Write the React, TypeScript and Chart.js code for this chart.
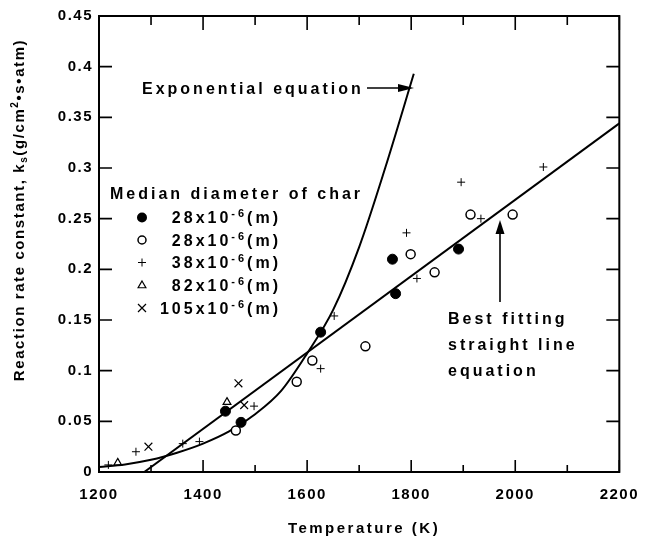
import React, { useEffect, useRef } from 'react';
import { Chart, registerables } from 'chart.js';

Chart.register(...registerables);

// ---------------- data ----------------
const xTickValues = [1200, 1300, 1400, 1500, 1600, 1700, 1800, 1900, 2000, 2100, 2200];
const xTickLabels = ['1200', '', '1400', '', '1600', '', '1800', '', '2000', '', '2200'];
const yTickValues = [0, 0.05, 0.1, 0.15, 0.2, 0.25, 0.3, 0.35, 0.4, 0.45];
const yTickLabels = ['0', '0.05', '0.1', '0.15', '0.2', '0.25', '0.3', '0.35', '0.4', '0.45'];

const filled28T = [1443, 1473, 1626, 1764, 1770, 1891];
const filled28K = [0.06, 0.049, 0.138, 0.21, 0.176, 0.22];

const open28T = [1463, 1580, 1610, 1712, 1799, 1845, 1914, 1995];
const open28K = [0.041, 0.089, 0.11, 0.124, 0.215, 0.197, 0.254, 0.254];

const plus38T = [1218, 1271, 1361, 1393, 1498, 1626, 1652, 1791, 1811, 1896, 1934, 2054];
const plus38K = [0.007, 0.02, 0.028, 0.03, 0.065, 0.102, 0.154, 0.236, 0.191, 0.286, 0.25, 0.301];

const tri82T = [1236, 1446];
const tri82K = [0.009, 0.069];

const x105T = [1295, 1468, 1479];
const x105K = [0.025, 0.0875, 0.066];

const lineT = [1287, 2200];
const lineK = [0, 0.344];

const expT = [1200, 1250, 1300, 1350, 1400, 1450, 1500, 1550, 1600, 1650, 1700, 1750, 1805];
const expK = [0.005, 0.0075, 0.012, 0.019, 0.028, 0.04, 0.057, 0.08, 0.117, 0.16, 0.222, 0.3, 0.393];

const legendTitle = 'Median diameter of char';
const legendSizes = ['28', '28', '38', '82', '105'];
const legendStyles = ['filled', 'open', 'plus', 'tri', 'x'];

// ---------------- helpers ----------------
const FONT = '"Liberation Sans", Arial, Helvetica, sans-serif';
const pts = (xs: number[], ys: number[]) => xs.map((x, i) => ({ x, y: ys[i] }));

type Seg = { t: string; size: number; dy?: number };

function setFont(ctx: any, size: number, ls: number) {
  ctx.font = `bold ${size}px ${FONT}`;
  ctx.letterSpacing = `${ls}px`;
}
function segsWidth(ctx: any, segs: Seg[], ls: number) {
  let w = 0;
  for (const s of segs) {
    setFont(ctx, s.size, ls);
    w += ctx.measureText(s.t).width;
  }
  return w;
}
function drawSegs(ctx: any, segs: Seg[], x: number, baseline: number, ls: number) {
  let cx = x;
  ctx.textAlign = 'left';
  ctx.textBaseline = 'alphabetic';
  for (const s of segs) {
    setFont(ctx, s.size, ls);
    ctx.fillText(s.t, cx, baseline + (s.dy || 0));
    cx += ctx.measureText(s.t).width;
  }
}

function drawMarker(ctx: any, style: string, x: number, y: number) {
  ctx.save();
  ctx.strokeStyle = '#000';
  ctx.fillStyle = '#000';
  ctx.beginPath();
  if (style === 'filled') {
    ctx.arc(x, y, 5, 0, Math.PI * 2);
    ctx.fill();
  } else if (style === 'open') {
    ctx.lineWidth = 1.5;
    ctx.arc(x, y, 4, 0, Math.PI * 2);
    ctx.fillStyle = '#fff';
    ctx.fill();
    ctx.stroke();
  } else if (style === 'plus') {
    ctx.lineWidth = 1;
    ctx.moveTo(x - 4, y);
    ctx.lineTo(x + 4, y);
    ctx.moveTo(x, y - 4);
    ctx.lineTo(x, y + 4);
    ctx.stroke();
  } else if (style === 'tri') {
    ctx.lineWidth = 1.2;
    const r = 4.5;
    ctx.moveTo(x, y - r);
    ctx.lineTo(x + r * 0.866, y + r / 2);
    ctx.lineTo(x - r * 0.866, y + r / 2);
    ctx.closePath();
    ctx.stroke();
  } else if (style === 'x') {
    ctx.lineWidth = 1.2;
    const d = 4;
    ctx.moveTo(x - d, y - d);
    ctx.lineTo(x + d, y + d);
    ctx.moveTo(x + d, y - d);
    ctx.lineTo(x - d, y + d);
    ctx.stroke();
  }
  ctx.restore();
}

function arrowHead(ctx: any, tipX: number, tipY: number, dirX: number, dirY: number, len: number, half: number) {
  const bx = tipX - dirX * len;
  const by = tipY - dirY * len;
  const px = -dirY;
  const py = dirX;
  ctx.beginPath();
  ctx.moveTo(tipX, tipY);
  ctx.lineTo(bx + px * half, by + py * half);
  ctx.lineTo(bx - px * half, by - py * half);
  ctx.closePath();
  ctx.fill();
}

const decorPlugin = {
  id: 'decor',
  beforeDraw(chart: any) {
    chart.ctx.letterSpacing = '1.5px';
  },
  afterDraw(chart: any) {
    const ctx = chart.ctx;
    const { left, right, top, bottom } = chart.chartArea;
    const xs = chart.scales.x;
    const ys = chart.scales.y;
    ctx.save();
    ctx.strokeStyle = '#000';
    ctx.fillStyle = '#000';

    // frame
    ctx.lineWidth = 2;
    ctx.strokeRect(left, top, right - left, bottom - top);

    // inward ticks
    ctx.lineWidth = 1.6;
    ctx.beginPath();
    xTickValues.forEach((v, i) => {
      const px = xs.getPixelForValue(v);
      const major = xTickLabels[i] !== '';
      const lb = major ? 12 : 7;
      const lt = major ? 14 : 9;
      ctx.moveTo(px, bottom);
      ctx.lineTo(px, bottom - lb);
      ctx.moveTo(px, top);
      ctx.lineTo(px, top + lt);
    });
    yTickValues.forEach((v) => {
      const py = ys.getPixelForValue(v);
      ctx.moveTo(left, py);
      ctx.lineTo(left + 13, py);
      ctx.moveTo(right, py);
      ctx.lineTo(right - 13, py);
    });
    ctx.stroke();

    const LS = 3;
    // "Exponential equation" with arrow
    drawSegs(ctx, [{ t: 'Exponential equation', size: 16 }], 142, 88 + 5.7, LS);
    ctx.lineWidth = 1.6;
    ctx.beginPath();
    ctx.moveTo(367, 88);
    ctx.lineTo(400, 88);
    ctx.stroke();
    arrowHead(ctx, 414, 88, 1, 0, 16, 4);

    // Best fitting straight line equation with arrow
    drawSegs(ctx, [{ t: 'Best fitting', size: 16 }], 448, 318.5 + 5.7, LS);
    drawSegs(ctx, [{ t: 'straight line', size: 16 }], 448, 344 + 5.7, LS);
    drawSegs(ctx, [{ t: 'equation', size: 16 }], 448, 370 + 5.7, LS);
    ctx.lineWidth = 1.6;
    ctx.beginPath();
    ctx.moveTo(500, 302);
    ctx.lineTo(500, 230);
    ctx.stroke();
    arrowHead(ctx, 500, 220, 0, -1, 14, 4.5);

    // legend
    drawSegs(ctx, [{ t: legendTitle, size: 16 }], 110, 193 + 5.7, LS);
    const rowY = [217.5, 240, 262.5, 285.5, 308];
    legendSizes.forEach((sz, i) => {
      const y = rowY[i];
      drawMarker(ctx, legendStyles[i], 142, y);
      const segs: Seg[] = [
        { t: `${sz}x10`, size: 16 },
        { t: '-6', size: 11, dy: -6 },
        { t: '(m)', size: 16 },
      ];
      const w = segsWidth(ctx, segs, LS);
      drawSegs(ctx, segs, 281 - w, y + 5.7, LS);
    });

    // x axis title
    const xt: Seg[] = [{ t: 'Temperature (K)', size: 15 }];
    const xw = segsWidth(ctx, xt, 2.5);
    drawSegs(ctx, xt, 364 - xw / 2, 528 + 5.4, 2.5);

    // y axis title (rotated)
    const yt: Seg[] = [
      { t: 'Reaction rate constant, k', size: 15 },
      { t: 's', size: 10, dy: 3 },
      { t: '(g/cm', size: 15 },
      { t: '2', size: 10, dy: -6 },
      { t: '\u2022s\u2022atm)', size: 15 },
    ];
    const yw = segsWidth(ctx, yt, 1.6);
    ctx.save();
    ctx.translate(19, 210);
    ctx.rotate(-Math.PI / 2);
    drawSegs(ctx, yt, -yw / 2, 5.4, 1.6);
    ctx.restore();

    ctx.restore();
    ctx.letterSpacing = '0px';
  },
};

export default function App() {
  const ref = useRef<HTMLCanvasElement | null>(null);
  useEffect(() => {
    if (!ref.current) return;
    const black = '#000';
    const chart = new Chart(ref.current, {
      type: 'scatter',
      data: {
        datasets: [
          {
            label: 'Exponential equation',
            data: pts(expT, expK),
            showLine: true,
            borderColor: black,
            borderWidth: 2,
            pointRadius: 0,
            cubicInterpolationMode: 'monotone',
            fill: false,
            order: 3,
          } as any,
          {
            label: 'Best fitting straight line',
            data: pts(lineT, lineK),
            showLine: true,
            borderColor: black,
            borderWidth: 2,
            pointRadius: 0,
            fill: false,
            order: 3,
          },
          {
            label: '28x10-6(m) filled',
            data: pts(filled28T, filled28K),
            pointStyle: 'circle',
            pointRadius: 5,
            pointBackgroundColor: black,
            pointBorderColor: black,
            pointBorderWidth: 1,
            order: 1,
          },
          {
            label: '28x10-6(m) open',
            data: pts(open28T, open28K),
            pointStyle: 'circle',
            pointRadius: 4.5,
            pointBackgroundColor: '#fff',
            pointBorderColor: black,
            pointBorderWidth: 1.5,
            order: 1,
          },
          {
            label: '38x10-6(m)',
            data: pts(plus38T, plus38K),
            pointStyle: 'cross',
            pointRadius: 4,
            pointBorderColor: black,
            pointBorderWidth: 1,
            order: 1,
          },
          {
            label: '82x10-6(m)',
            data: pts(tri82T, tri82K),
            pointStyle: 'triangle',
            pointRadius: 4.5,
            pointBackgroundColor: 'rgba(255,255,255,0)',
            pointBorderColor: black,
            pointBorderWidth: 1.2,
            order: 1,
          },
          {
            label: '105x10-6(m)',
            data: pts(x105T, x105K),
            pointStyle: 'crossRot',
            pointRadius: 5.5,
            pointBorderColor: black,
            pointBorderWidth: 1.2,
            order: 1,
          },
        ],
      },
      options: {
        responsive: false,
        animation: false,
        devicePixelRatio: 1,
        events: [],
        layout: { padding: { top: 16, right: 22, left: 0, bottom: 0 } },
        plugins: { legend: { display: false }, tooltip: { enabled: false } },
        scales: {
          x: {
            type: 'linear',
            min: 1200,
            max: 2200,
            grid: { display: false, drawTicks: false },
            border: { display: false },
            ticks: {
              stepSize: 100,
              autoSkip: false,
              maxRotation: 0,
              padding: 14,
              color: black,
              font: { family: FONT, size: 15, weight: 'bold' },
              callback: (_v: any, i: number) => xTickLabels[i],
            },
            afterFit: (s: any) => {
              s.height = 73;
            },
          },
          y: {
            type: 'linear',
            min: 0,
            max: 0.45,
            grid: { display: false, drawTicks: false },
            border: { display: false },
            ticks: {
              stepSize: 0.05,
              autoSkip: false,
              padding: 6,
              color: black,
              font: { family: FONT, size: 15, weight: 'bold' },
              callback: (_v: any, i: number) => yTickLabels[i],
            },
            afterFit: (s: any) => {
              s.width = 99;
            },
          },
        },
      },
      plugins: [decorPlugin],
    } as any);
    return () => chart.destroy();
  }, []);
  return (
    <div style={{ position: 'absolute', left: 0, top: 0, width: 650, height: 545, background: '#fff' }}>
      <canvas ref={ref} width={650} height={545} style={{ display: 'block' }} />
    </div>
  );
}
